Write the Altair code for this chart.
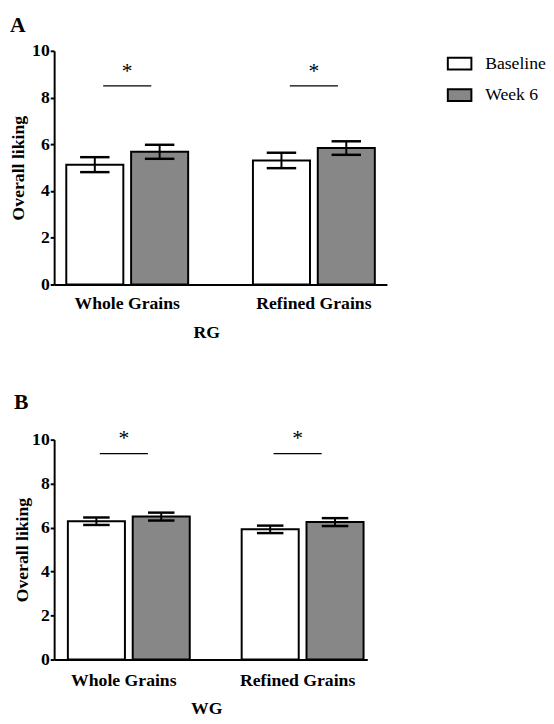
import altair as alt
import pandas as pd

groups = ["Whole Grains", "Refined Grains"]
times = ["Baseline", "Week 6"]

# Panel A (RG)
rg_mean = [5.13, 5.68, 5.31, 5.84]
rg_sem = [0.32, 0.30, 0.33, 0.29]
# Panel B (WG)
wg_mean = [6.29, 6.50, 5.92, 6.25]
wg_sem = [0.17, 0.18, 0.17, 0.18]

sig_line = {"A": 8.5, "B": 9.36}
sig_star = {"A": 9.15, "B": 10.05}

SERIF = "Liberation Serif"


def panel(means, sems, letter, xtitle, width, height, pi, po, cap,
          show_legend, title_pad, title_x, label_pad, xtitle_pad, toffset):
    df = pd.DataFrame({
        "group": [g for g in groups for _ in times],
        "time": times * 2,
        "mean": means,
        "sem": sems,
    })
    df["lo"] = df["mean"] - df["sem"]
    df["hi"] = df["mean"] + df["sem"]

    sig = pd.DataFrame({"group": groups,
                        "line": [sig_line[letter]] * 2,
                        "star": [sig_star[letter]] * 2,
                        "txt": ["*", "*"]})

    xscale = alt.Scale(domain=groups, paddingInner=pi, paddingOuter=po)
    xaxis = alt.Axis(labelAngle=0, ticks=False, tickSize=0, domainColor="black",
                     domainWidth=2, labelFont=SERIF, labelFontSize=18,
                     labelFontWeight="bold", labelColor="black", labelPadding=label_pad,
                     titleFont=SERIF, titleFontSize=18, titleFontWeight="bold",
                     titleColor="black", titleX=title_x, titlePadding=xtitle_pad)
    x = alt.X("group:N", scale=xscale, axis=xaxis, title=xtitle)
    xoff = alt.XOffset("time:N", scale=alt.Scale(domain=times, paddingInner=0.12, paddingOuter=0))
    yscale = alt.Scale(domain=[0, 10])
    yaxis = alt.Axis(values=[0, 2, 4, 6, 8, 10], grid=False, domainColor="black",
                     domainWidth=2, tickColor="black", tickWidth=2, tickSize=4,
                     labelFont=SERIF, labelFontSize=18, labelFontWeight="bold",
                     labelColor="black", labelPadding=1,
                     titleFont=SERIF, titleFontSize=18, titleFontWeight="bold",
                     titleColor="black", titlePadding=title_pad)

    def Y(field):
        return alt.Y(field, scale=yscale, axis=yaxis, title="Overall liking")

    if show_legend:
        legend = alt.Legend(orient="none", legendX=400, legendY=0, title=None,
                            symbolType="M-1,-0.5H1V0.5H-1Z", symbolSize=576,
                            symbolStrokeColor="black", symbolStrokeWidth=2,
                            symbolOpacity=1,
                            labelFont=SERIF, labelFontSize=18, labelColor="black",
                            labelOffset=13, rowPadding=9)
    else:
        legend = None

    base = alt.Chart(df)
    bars = base.mark_bar(stroke="black", strokeWidth=2, opacity=1).encode(
        x=x, xOffset=xoff, y=Y("mean:Q"),
        fill=alt.Fill("time:N", scale=alt.Scale(domain=times, range=["white", "#878787"]),
                      legend=legend),
    )
    rule = base.mark_rule(color="black", strokeWidth=2).encode(
        x=x, xOffset=xoff, y=Y("lo:Q"), y2="hi:Q")
    cap_hi = base.mark_tick(color="black", size=cap, thickness=2.5, orient="horizontal",
                            opacity=1).encode(x=x, xOffset=xoff, y=Y("hi:Q"))
    cap_lo = base.mark_tick(color="black", size=cap, thickness=2.5, orient="horizontal",
                            opacity=1).encode(x=x, xOffset=xoff, y=Y("lo:Q"))

    sbase = alt.Chart(sig)
    line = sbase.mark_tick(color="black", size=49, thickness=1.2, orient="horizontal",
                           opacity=1).encode(x=x, y=Y("line:Q"))
    star = sbase.mark_text(font=SERIF, fontSize=22, color="black", baseline="middle").encode(
        x=x, y=Y("star:Q"), text="txt:N")

    return alt.layer(bars, rule, cap_hi, cap_lo, line, star).properties(
        width=width, height=height,
        title=alt.TitleParams(letter, anchor="start", frame="bounds", font=SERIF,
                              fontSize=22, fontWeight="bold", color="black", offset=toffset),
    )


pA = panel(rg_mean, rg_sem, "A", "RG", 339, 238, 0.347, 0.065, 30, True, 4, 155, 10, 12, 5)
pB = panel(wg_mean, wg_sem, "B", "WG", 319, 224, 0.356, 0.079, 27, False, 0, 155, 12, 11, 14)

chart = alt.vconcat(pA, pB, spacing=50).resolve_legend(fill="independent").properties(
    padding={"left": 2, "top": 0, "right": 0, "bottom": 0}
).configure(background="white", view=alt.ViewConfig(stroke="transparent", strokeWidth=0))

chart.save("out.html", embed_options={"renderer": "svg", "actions": False})
